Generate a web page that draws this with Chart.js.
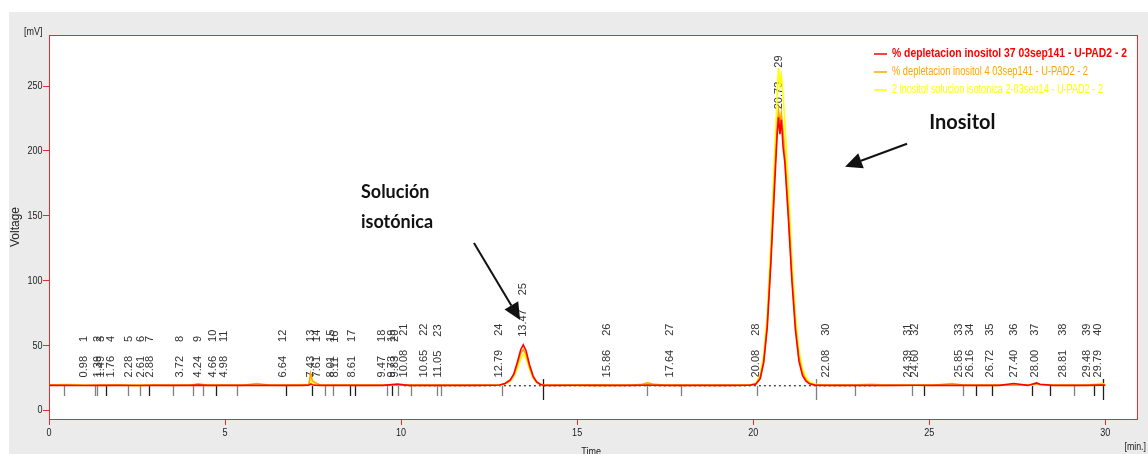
<!DOCTYPE html>
<html>
<head>
<meta charset="utf-8">
<title>Cromatograma inositol</title>
<script src="https://cdn.jsdelivr.net/npm/chart.js@4.4.1/dist/chart.umd.min.js"></script>
<style>
    html, body { margin: 0; padding: 0; background: #fff; }
    #wrap { width: 1148px; height: 454px; position: relative; }
</style>
</head>
<body>
<div id="wrap"><canvas id="chromChart"></canvas></div>
<script>
/* global Chart */

// Retention time [min.] shared by the three traces
const timeMin = [
    0, 0.5, 1.0, 1.5, 2.0, 2.5, 3.0, 3.5, 4.0, 4.24, 4.5, 5.0, 5.5, 5.9, 6.3, 6.8, 7.2, 7.38, 7.43, 7.48, 7.55, 7.7, 8.0, 8.5, 9.0, 9.5, 9.9, 10.2, 10.7, 11.2, 11.7, 12.2, 12.6,
    12.8, 12.95, 13.1, 13.2, 13.3, 13.4, 13.47, 13.55, 13.65, 13.75, 13.85, 13.95, 14.05,
    14.5, 15.0, 15.5, 16.0, 16.5, 16.85, 17.0, 17.15, 17.5, 18.0, 18.5, 19.0, 19.5, 19.9,
    20.08, 20.2, 20.3, 20.4, 20.5, 20.6, 20.65, 20.68, 20.72, 20.76, 20.8, 20.85, 20.9, 21.0, 21.1, 21.2, 21.3, 21.4, 21.5, 21.6, 21.75,
    22.0, 22.5, 23.0, 23.35, 23.7, 24.2, 24.6, 25.1, 25.65, 26.0, 26.5, 27.0, 27.4, 27.8, 28.05, 28.15, 28.5, 29.0, 29.5, 29.9, 30.0
];

// Voltage [mV]
const depletacion37 = [
    19.3, 19.3, 19.2, 19.3, 19.3, 19.2, 19.3, 19.3, 19.3, 19.5, 19.3, 19.3, 19.3, 19.3, 19.3, 19.3, 19.3, 19.4, 20.5, 19.8, 19.4, 19.3, 19.3, 19.3, 19.3, 19.3, 20.3, 19.3, 19.3, 19.3, 19.3, 19.3, 19.4,
    19.6, 20.8, 23.5, 28, 37, 47, 50.6, 46, 35, 26.5, 22, 20.2, 19.3,
    19.3, 19.4, 19.3, 19.3, 19.3, 19.4, 19.6, 19.4, 19.3, 19.3, 19.3, 19.3, 19.3, 19.4,
    20.3, 24.5, 37, 64, 112, 168, 196, 212, 226, 213, 224, 203, 191, 148, 100, 62, 38, 27, 22.5, 20.5, 19.5,
    19.3, 19.3, 19.3, 19.3, 19.3, 19.3, 19.4, 19.3, 19.3, 19.3, 19.3, 19.3, 20.8, 19.3, 21.2, 20.2, 19.3, 19.3, 19.3, 19.5, 19.4
];
const depletacion4 = [
    19.5, 19.4, 19.4, 19.3, 19.4, 19.3, 19.4, 19.3, 19.4, 20.5, 19.3, 19.4, 19.3, 20.8, 19.4, 19.3, 19.5, 20.0, 28.5, 23.0, 21.5, 19.6, 19.4, 19.4, 19.3, 19.4, 19.8, 19.4, 19.3, 19.4, 19.3, 19.4, 19.4,
    19.6, 20.6, 23, 27, 35, 44, 47, 43, 33, 25.5, 21.8, 20.2, 19.5,
    19.4, 19.3, 19.5, 19.3, 19.4, 20.2, 21.3, 20.3, 19.4, 19.3, 19.4, 19.3, 19.4, 19.5,
    20.6, 25.5, 39, 67, 117, 176, 203, 219, 231, 222, 229, 215, 197, 154, 105, 66, 41, 29, 23.5, 21, 19.8,
    19.4, 19.3, 19.4, 19.5, 19.3, 19.4, 19.4, 19.3, 20.8, 19.4, 19.3, 19.4, 19.6, 19.4, 20.4, 19.8, 19.4, 19.3, 19.4, 20.2, 19.5
];
const solucionIsotonica = [
    19.6, 20.2, 19.5, 19.4, 19.8, 19.3, 19.7, 19.4, 19.6, 19.8, 19.5, 19.7, 19.4, 19.6, 19.5, 19.6, 20.0, 19.8, 24.0, 21.0, 20.2, 19.6, 19.5, 19.7, 19.5, 19.6, 19.6, 19.5, 19.6, 19.5, 19.4, 19.5, 19.4,
    19.5, 20.4, 22.5, 26, 32, 40, 43.5, 40.5, 31.5, 25, 21.5, 20.1, 19.6,
    19.5, 19.7, 19.5, 19.6, 19.5, 19.7, 20.4, 19.8, 19.5, 19.6, 19.5, 19.5, 19.6, 19.6,
    21.0, 27.5, 43, 74, 128, 193, 222, 243, 264, 250, 258, 243, 222, 172, 117, 74, 46, 32, 25.5, 22, 20.3,
    19.6, 19.5, 19.7, 20.8, 19.5, 19.6, 19.5, 19.6, 19.8, 19.5, 19.6, 19.5, 19.7, 19.6, 20.2, 19.9, 19.5, 19.6, 19.5, 21.0, 19.7
];

const seriesNames = [
    '% depletacion inositol 37 03sep141 - U-PAD2 - 2',
    '% depletacion inositol 4 03sep141 - U-PAD2 - 2',
    '2 inositol solucion isotonica 2-03seo14 - U-PAD2 - 2'
];
const seriesColors = ['#ff0000', '#ffa500', '#ffff00'];

// Peak table (number + retention time)
const peakNumbers = [1, 2, 3, 4, 5, 6, 7, 8, 9, 10, 11, 12, 13, 14, 15, 16, 17, 18, 19, 20,
    21, 22, 23, 24, 25, 26, 27, 28, 29, 30, 31, 32, 33, 34, 35, 36, 37, 38, 39, 40];
const peakTimes = [0.98, 1.39, 1.49, 1.76, 2.28, 2.61, 2.88, 3.72, 4.24, 4.66, 4.98, 6.64, 7.43, 7.61, 8.01, 8.11, 8.61, 9.47, 9.73, 9.83,
    10.08, 10.65, 11.05, 12.79, 13.47, 15.86, 17.64, 20.08, 20.73, 22.08, 24.39, 24.60, 25.85, 26.16, 26.72, 27.40, 28.00, 28.81, 29.48, 29.79];

// Peak start / end markers under the baseline
const boundaryTimes = [0.42, 1.32, 1.37, 1.61, 2.25, 2.58, 2.84, 3.52, 4.09, 4.38, 4.73, 5.35, 6.72, 7.48, 7.85, 8.07, 8.55, 8.69, 9.59, 9.75, 9.90,
    10.28, 11.01, 11.13, 12.88, 14.04, 16.98, 17.95, 20.11, 21.79, 22.88, 24.52, 24.84, 25.96, 26.33, 26.77, 27.93, 28.44, 29.11, 29.67, 29.95];
const boundaryKind = ['g', 'g', 'g', 'k', 'g', 'g', 'k', 'g', 'g', 'g', 'k', 'g', 'k', 'k', 'g', 'g', 'k', 'k', 'g', 'k', 'g',
    'g', 'g', 'g', 'g', 'K', 'g', 'g', 'g', 'G', 'g', 'g', 'k', 'g', 'k', 'k', 'k', 'k', 'g', 'k', 'K'];

// Integration baseline (dotted)
const baselineTimes = [10.08, 23.5];
const baselineLevel = 19.0;
const traceBase = 19.3;

const xTicks = [0, 5, 10, 15, 20, 25, 30];
const yTicks = [0, 50, 100, 150, 200, 250];
const xRange = [0, 30.93];
const yRange = [-6.6, 289.4];

const TEXT_FONT = '"Liberation Sans", Arial, sans-serif';

// Draw text squeezed horizontally (the original uses a narrow UI font)
function narrowText(ctx, text, x, y, align, squeeze) {
    const w = ctx.measureText(text).width * squeeze;
    let dx = 0;
    if (align === 'right') dx = -w;
    else if (align === 'center') dx = -w / 2;
    ctx.save();
    ctx.translate(x + dx, y);
    ctx.scale(squeeze, 1);
    ctx.textAlign = 'left';
    ctx.fillText(text, 0, 0);
    ctx.restore();
}

function drawArrow(ctx, x1, y1, x2, y2) {
    const ang = Math.atan2(y2 - y1, x2 - x1);
    const head = 17;
    const half = 8;
    const bx = x2 - head * Math.cos(ang);
    const by = y2 - head * Math.sin(ang);
    ctx.beginPath();
    ctx.moveTo(x1, y1);
    ctx.lineTo(bx, by);
    ctx.stroke();
    ctx.beginPath();
    ctx.moveTo(x2, y2);
    ctx.lineTo(bx + half * Math.sin(ang), by - half * Math.cos(ang));
    ctx.lineTo(bx - half * Math.sin(ang), by + half * Math.cos(ang));
    ctx.closePath();
    ctx.fill();
}

// Height of the red trace at a peak, used to lift the labels of the big peaks
function levelAt(t) {
    let best = 0;
    timeMin.forEach((v, i) => {
        if (Math.abs(v - t) < Math.abs(timeMin[best] - t)) best = i;
    });
    const v = depletacion37[best];
    return v > 30 ? v : traceBase;
}

const chromDecor = {
    id: 'chromDecor',
    beforeDraw(chart) {
        const { ctx, chartArea: a } = chart;
        ctx.save();
        ctx.fillStyle = '#ffffff';
        ctx.fillRect(0, 0, chart.width, chart.height);
        ctx.fillStyle = '#ebebeb';
        ctx.fillRect(9, 12, chart.width - 9, chart.height - 12);
        ctx.fillStyle = '#ffffff';
        ctx.fillRect(a.left, a.top, a.width, a.height);
        ctx.restore();
    },
    beforeDatasetsDraw(chart) {
        const { ctx, chartArea: a } = chart;
        const xs = chart.scales.x;
        const ys = chart.scales.y;
        const yb = Math.round(ys.getPixelForValue(traceBase));

        // Peak start / end markers
        ctx.save();
        ctx.lineWidth = 1.3;
        boundaryTimes.forEach((t, i) => {
            const kind = boundaryKind[i];
            const x = Math.round(xs.getPixelForValue(t)) + 0.5;
            ctx.strokeStyle = (kind === 'k' || kind === 'K') ? '#202020' : '#808080';
            const tall = kind === 'K' || kind === 'G';
            ctx.beginPath();
            ctx.moveTo(x, tall ? yb - 6 : yb + 1);
            ctx.lineTo(x, tall ? yb + 15 : yb + 11);
            ctx.stroke();
        });
        ctx.restore();

        // Peak labels (drawn under the traces, as in the original)
        ctx.save();
        ctx.beginPath();
        ctx.rect(a.left, a.top, a.width, a.height);
        ctx.clip();
        ctx.font = '11px ' + TEXT_FONT;
        ctx.fillStyle = '#333333';
        peakTimes.forEach((t, i) => {
            const x = xs.getPixelForValue(t);
            const y0 = ys.getPixelForValue(levelAt(t)) - 8;
            const timeTxt = t.toFixed(2);
            const w = ctx.measureText(timeTxt).width;
            ctx.save();
            ctx.translate(x, y0);
            ctx.rotate(-Math.PI / 2);
            ctx.textAlign = 'left';
            ctx.textBaseline = 'middle';
            ctx.fillText(timeTxt, 0, 0);
            ctx.fillText(String(peakNumbers[i]), w + 14, 0);
            ctx.restore();
        });
        ctx.restore();
    },
    afterDatasetsDraw(chart) {
        const { ctx, chartArea: a } = chart;
        const xs = chart.scales.x;
        const ys = chart.scales.y;

        // Frame
        ctx.save();
        ctx.strokeStyle = '#f02828';
        ctx.lineWidth = 1;
        ctx.strokeRect(Math.round(a.left) + 0.5, Math.round(a.top) + 0.5, Math.round(a.width) - 1, Math.round(a.height));
        ctx.restore();

        // Legend (top right, inside the plot)
        ctx.save();
        const legendWidths = [235, 196, 211];
        seriesNames.forEach((name, i) => {
            const y = a.top + 19 + i * 18;
            const lx = a.right - 264;
            ctx.strokeStyle = seriesColors[i];
            ctx.lineWidth = 1.5;
            ctx.beginPath();
            ctx.moveTo(lx, y);
            ctx.lineTo(lx + 13, y);
            ctx.stroke();
            ctx.fillStyle = seriesColors[i];
            ctx.font = (i === 0 ? 'bold ' : '') + '12px ' + TEXT_FONT;
            ctx.textBaseline = 'middle';
            const w = ctx.measureText(name).width;
            narrowText(ctx, name, lx + 18, y, 'left', legendWidths[i] / w);
        });
        ctx.restore();

        // Annotations
        ctx.save();
        ctx.fillStyle = '#111111';
        ctx.strokeStyle = '#111111';
        ctx.textAlign = 'left';
        ctx.textBaseline = 'middle';
        ctx.font = 'bold 18px Lato, "Open Sans", sans-serif';
        ctx.fillText('Solución', xs.getPixelForValue(8.86), ys.getPixelForValue(167.9));
        ctx.fillText('isotónica', xs.getPixelForValue(8.86), ys.getPixelForValue(144.8));
        ctx.font = 'bold 20px Lato, "Open Sans", sans-serif';
        ctx.fillText('Inositol', xs.getPixelForValue(25.0), ys.getPixelForValue(221.8));
        ctx.lineWidth = 2;
        drawArrow(ctx, xs.getPixelForValue(12.07), ys.getPixelForValue(129.1), xs.getPixelForValue(13.38), ys.getPixelForValue(69.7));
        drawArrow(ctx, xs.getPixelForValue(24.37), ys.getPixelForValue(205.6), xs.getPixelForValue(22.61), ys.getPixelForValue(187.9));
        ctx.restore();

        // Axis labels and tick labels
        ctx.save();
        ctx.fillStyle = '#222222';
        ctx.font = '11px ' + TEXT_FONT;
        ctx.textBaseline = 'middle';
        yTicks.forEach(v => {
            narrowText(ctx, String(v), a.left - 6.5, ys.getPixelForValue(v), 'right', 0.82);
        });
        xTicks.forEach(v => {
            narrowText(ctx, String(v), xs.getPixelForValue(v), a.bottom + 14, 'center', 0.82);
        });
        narrowText(ctx, '[mV]', a.left - 6.5, a.top - 3, 'right', 0.82);
        narrowText(ctx, '[min.]', chart.width - 2, chart.height - 7, 'right', 0.8);
        narrowText(ctx, 'Time', xs.getPixelForValue(15.4), chart.height - 2, 'center', 0.82);
        ctx.translate(16, (a.top + a.bottom) / 2);
        ctx.rotate(-Math.PI / 2);
        ctx.font = '12px ' + TEXT_FONT;
        narrowText(ctx, 'Voltage', 0, 0, 'center', 1);
        ctx.restore();
    }
};

function buildSeries(values) {
    return timeMin.map((t, i) => ({ x: t, y: values[i] }));
}

const traces = [depletacion37, depletacion4, solucionIsotonica];
const datasets = traces.map((vals, i) => ({
    label: seriesNames[i],
    data: buildSeries(vals),
    borderColor: seriesColors[i],
    borderWidth: 1.6,
    pointRadius: 0,
    tension: 0,
    fill: false
}));
datasets.push({
    label: 'baseline',
    data: baselineTimes.map(t => ({ x: t, y: baselineLevel })),
    borderColor: '#000000',
    borderWidth: 1,
    borderDash: [2, 3],
    pointRadius: 0,
    fill: false
});

new Chart(document.getElementById('chromChart'), {
    type: 'line',
    data: { datasets },
    options: {
        responsive: true,
        maintainAspectRatio: false,
        animation: false,
        devicePixelRatio: 1,
        layout: { padding: { top: 35, right: 10, left: 0, bottom: 0 } },
        plugins: {
            legend: { display: false },
            tooltip: { enabled: false }
        },
        scales: {
            x: {
                type: 'linear',
                min: xRange[0],
                max: xRange[1],
                afterBuildTicks: s => { s.ticks = xTicks.map(v => ({ value: v })); },
                afterFit: s => { s.height = 35; },
                grid: { drawOnChartArea: false, color: '#f02828', tickLength: 6 },
                border: { display: false },
                ticks: { display: false }
            },
            y: {
                min: yRange[0],
                max: yRange[1],
                afterBuildTicks: s => { s.ticks = yTicks.map(v => ({ value: v })); },
                afterFit: s => { s.width = 49; },
                grid: { drawOnChartArea: false, color: '#f02828', tickLength: 6 },
                border: { display: false },
                ticks: { display: false }
            }
        }
    },
    plugins: [chromDecor]
});
</script>
</body>
</html>
